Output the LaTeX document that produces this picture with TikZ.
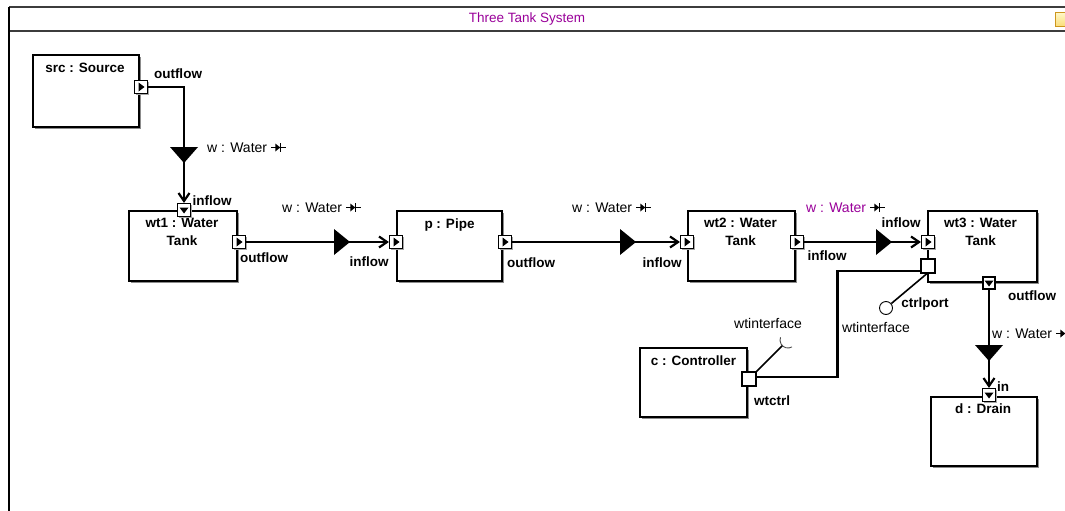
\documentclass[tikz,border=0pt]{standalone}
\usepackage{fontspec}
\setmainfont{Liberation Sans}
\usetikzlibrary{arrows.meta,shadows,calc}

\definecolor{titlepurple}{RGB}{153,0,153}
\definecolor{framegray}{RGB}{60,60,60}
\definecolor{iconlight}{RGB}{255,248,200}
\definecolor{icondark}{RGB}{250,220,120}
\definecolor{iconedge}{RGB}{205,150,30}

\tikzset{
  part/.style={draw, line width=1.6pt, fill=white, inner sep=0pt,
    general shadow={fill=black!45, shadow xshift=1.8pt, shadow yshift=-1.8pt}},
  ptitle/.style={font=\bfseries\fontsize{13.5}{18}\selectfont, align=center,
    inner sep=0pt, anchor=north},
  plabel/.style={font=\bfseries\fontsize{13.5}{16}\selectfont, inner sep=0pt},
  ilabel/.style={font=\fontsize{14}{16}\selectfont, inner sep=0pt},
  port/.style={draw, line width=1.1pt, fill=white, minimum size=13pt, inner sep=0pt,
    general shadow={fill=black!35, shadow xshift=1pt, shadow yshift=-1pt}},
  cport/.style={port, minimum size=14pt},
  wire/.style={line width=2.2pt},
  flowend/.style={wire, -{Straight Barb[length=8pt,width=11pt]}},
  tri right/.pic={\fill (-2.5,-4.5) -- (3.5,0) -- (-2.5,4.5) -- cycle;},
  tri down/.pic={\fill (-4.5,-2.5) -- (4.5,-2.5) -- (0,3.5) -- cycle;},
  flow right/.pic={\fill (-8,-13) -- (8,0) -- (-8,13) -- cycle;},
  flow down/.pic={\fill (-14,-8) -- (14,-8) -- (0,8) -- cycle;},
  flow sym/.pic={
    \draw[line width=1.1pt] (0,0) -- (15,0);
    \fill (4,-4) -- (9,0) -- (4,4) -- cycle;
    \draw[line width=1.1pt] (9,-4.5) -- (9,4.5);}
}

\begin{document}
\begin{tikzpicture}[x=1pt, y=-1pt]
\useasboundingbox (0,0) rectangle (1065,511);

% diagram frame and title bar
\draw[framegray, line width=1.8pt] (9,7) -- (1075,7);
\draw[framegray, line width=1.8pt] (9,31) -- (1075,31);
\draw[black, line width=1.8pt] (9,7) -- (9,515);
\node[font=\fontsize{13.5}{15}\selectfont, text=titlepurple, inner sep=0pt] (title) at (527,19) {Three Tank System};
\shade[top color=iconlight, bottom color=icondark, draw=iconedge, line width=1pt]
  (1055.5,12.5) rectangle (1070,26.5);

% parts
\node[part, minimum width=106pt, minimum height=72pt] (src) at (86,91) {};
\node[part, minimum width=108pt, minimum height=70pt] (wt1) at (183,246) {};
\node[part, minimum width=105pt, minimum height=70pt] (p) at (449.5,246) {};
\node[part, minimum width=107pt, minimum height=70pt] (wt2) at (741.5,246) {};
\node[part, minimum width=109pt, minimum height=71pt] (wt3) at (982.5,246.5) {};
\node[part, minimum width=107pt, minimum height=69pt] (c) at (693.5,382.5) {};
\node[part, minimum width=106pt, minimum height=69pt] (d) at (984,431.5) {};

% part titles
\node[ptitle] (srct) at ($(src.north)+(-1,8.5)$) {src : Source};
\node[ptitle] (wt1t) at ($(wt1.north)+(-1,8)$) {wt1 : Water\\Tank};
\node[ptitle] (pt) at ($(p.north)+(0,8)$) {p : Pipe};
\node[ptitle] (wt2t) at ($(wt2.north)+(-1,8)$) {wt2 : Water\\Tank};
\node[ptitle] (wt3t) at ($(wt3.north)+(-2,8)$) {wt3 : Water\\Tank};
\node[ptitle] (ct) at ($(c.north)+(0,8)$) {c : Controller};
\node[ptitle] (dt) at ($(d.north)+(-1,7)$) {d : Drain};

% ports
\node[port] (srcout) at (141,87) {};
\node[port] (wt1in) at (184,210) {};
\node[port] (wt1out) at (239,242) {};
\node[port] (pin) at (396,242) {};
\node[port] (pout) at (505,242) {};
\node[port] (wt2in) at (687,242) {};
\node[port] (wt2out) at (797,242) {};
\node[port] (wt3in) at (928,242) {};
\node[cport] (wt3c) at (928,266) {};
\node[port, minimum size=12pt] (wt3out) at (989,283) {};
\node[port] (din) at (989,395) {};
\node[cport] (cwt) at (749,379) {};

\pic at (srcout) {tri right};
\pic at (wt1in) {tri down};
\pic at (wt1out) {tri right};
\pic at (pin) {tri right};
\pic at (pout) {tri right};
\pic at (wt2in) {tri right};
\pic at (wt2out) {tri right};
\pic at (wt3in) {tri right};
\pic at (wt3out) {tri down};
\pic at (din) {tri down};

% port labels
\node[plabel] (l1) at (178,74) {outflow};
\node[plabel] (l2) at (212,201) {inflow};
\node[plabel] (l3) at (264,258) {outflow};
\node[plabel] (l4) at (369,262) {inflow};
\node[plabel] (l5) at (531,263) {outflow};
\node[plabel] (l6) at (662,263) {inflow};
\node[plabel] (l7) at (827,256) {inflow};
\node[plabel] (l8) at (901,223) {inflow};
\node[plabel] (l9) at (1032,296) {outflow};
\node[plabel] (l10) at (925,304) {ctrlport};
\node[plabel] (l11) at (772,401) {wtctrl};
\node[plabel] (l12) at (1003,387) {in};

% item flows
\draw[flowend] (srcout.east) -| (wt1in.north);
\draw[flowend] (wt1out.east) -- (pin.west);
\draw[flowend] (pout.east) -- (wt2in.west);
\draw[flowend] (wt2out.east) -- (wt3in.west);
\draw[flowend] (wt3out.south) -- (din.north);
\pic at (184,155) {flow down};
\pic at (342,242) {flow right};
\pic at (628,242) {flow right};
\pic at (884,242) {flow right};
\pic at (989,353) {flow down};

\node[ilabel, anchor=west] (w1) at (207,147.5) {w : Water};
\node[ilabel, anchor=west] (w2) at (282,207.5) {w : Water};
\node[ilabel, anchor=west] (w3) at (572,207.5) {w : Water};
\node[ilabel, anchor=west, text=titlepurple] (w4) at (806,207.5) {w : Water};
\node[ilabel, anchor=west] (w5) at (992,333.5) {w : Water};
\pic at ($(w1.east)+(4,0)$) {flow sym};
\pic at ($(w2.east)+(4,0)$) {flow sym};
\pic at ($(w3.east)+(4,0)$) {flow sym};
\pic at ($(w4.east)+(4,0)$) {flow sym};
\pic at ($(w5.east)+(4,0)$) {flow sym};

% controller link
\draw[wire] ($(wt3c.west)+(0,5)$) -- ++(-83,0) |- ($(cwt.east)+(0,-2)$);

% provided interface (ball)
\node[circle, draw, line width=0.9pt, fill=white, minimum size=13pt, inner sep=0pt] (ball) at (886,308) {};
\draw[line width=1.6pt] ($(wt3c.south)+(-1,0)$) -- (ball);

% required interface (socket)
\coordinate (sock) at (788,340);
\draw[line width=1.6pt] (cwt.north east) -- ($(sock)+(135:8)$);
\draw[black!70, line width=0.9pt] ($(sock)+(60:8)$) arc[start angle=60, end angle=200, radius=8];

\node[ilabel] (i1) at (768,323) {wtinterface};
\node[ilabel] (i2) at (876,327) {wtinterface};
\end{tikzpicture}
\end{document}
